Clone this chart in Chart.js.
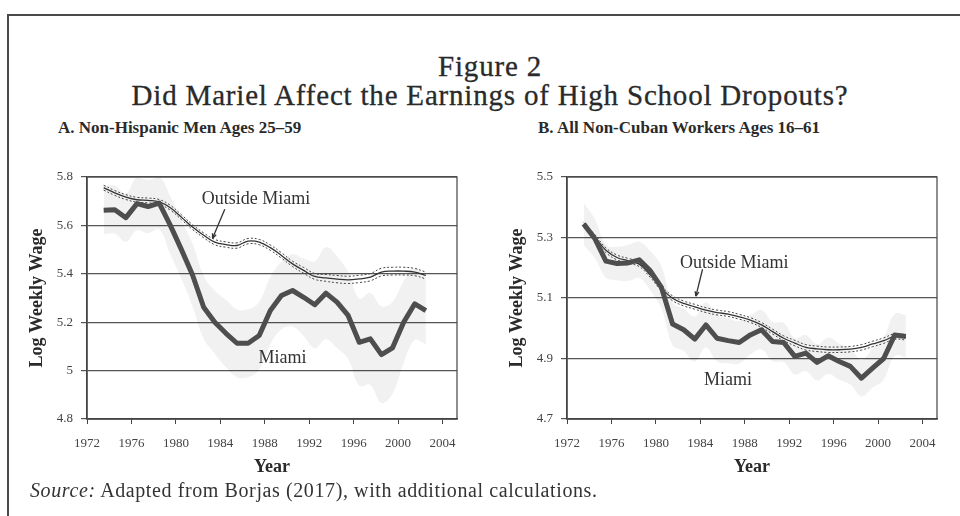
<!DOCTYPE html>
<html>
<head>
<meta charset="utf-8">
<script src="https://cdn.jsdelivr.net/npm/chart.js@4.4.1/dist/chart.umd.min.js"></script>
<style>
    html, body { margin: 0; padding: 0; background: #fff; }
    body { width: 960px; height: 516px; position: relative; overflow: hidden; font-family: "Liberation Serif", serif; color: #333; }
    .frame { position: absolute; left: 7px; top: 14px; right: -10px; bottom: -10px; border-top: 2px solid #4a4a4a; border-left: 2px solid #4a4a4a; }
    .title { position: absolute; left: 0; width: 980px; text-align: center; font-size: 29px; line-height: 30px; letter-spacing: 0.8px; color: #2a2a2a; -webkit-text-stroke: 0.3px #2a2a2a; }
    .sub { position: absolute; top: 118px; font-size: 17px; font-weight: bold; color: #2a2a2a; white-space: nowrap; }
    .source { position: absolute; left: 30px; top: 479px; font-size: 20px; letter-spacing: 0.6px; color: #333; white-space: nowrap; }
    canvas { position: absolute; top: 160px; }
</style>
</head>
<body>
<div class="frame"></div>
<div class="title" style="top:51px">Figure 2</div>
<div class="title" style="top:80px">Did Mariel Affect the Earnings of High School Dropouts?</div>
<div class="sub" style="left:58px">A. Non-Hispanic Men Ages 25–59</div>
<div class="sub" style="left:538px">B. All Non-Cuban Workers Ages 16–61</div>
<canvas id="c-a" width="450" height="320" style="left:20px"></canvas>
<canvas id="c-b" width="450" height="320" style="left:500px"></canvas>
<div class="source"><i>Source:</i> Adapted from Borjas (2017), with additional calculations.</div>

<script>
Chart.defaults.font.family = "'Liberation Serif', serif";
Chart.defaults.color = "#444";

const YEARS = [1973, 1974, 1975, 1976, 1977, 1978, 1979, 1980, 1981, 1982,
               1983, 1984, 1985, 1986, 1987, 1988, 1989, 1990, 1991, 1992,
               1993, 1994, 1995, 1996, 1997, 1998, 1999, 2000, 2001, 2002];
const X_TICKS = [1972, 1976, 1980, 1984, 1988, 1992, 1996, 2000, 2004];

// Panel A: non-Hispanic men 25-59
const Y_TICKS_A = [4.8, 5, 5.2, 5.4, 5.6, 5.8];
const MIAMI_A = [5.663, 5.665, 5.632, 5.690, 5.678, 5.692, 5.600, 5.500, 5.395, 5.262,
                 5.200, 5.154, 5.113, 5.113, 5.145, 5.248, 5.310, 5.331, 5.303, 5.272,
                 5.320, 5.283, 5.228, 5.117, 5.131, 5.066, 5.094, 5.200, 5.276, 5.248];
const MIAMI_A_CI = [0.10, 0.10, 0.10, 0.11, 0.11, 0.11, 0.12, 0.12, 0.13, 0.13,
                    0.13, 0.14, 0.14, 0.14, 0.14, 0.14, 0.14, 0.15, 0.16, 0.18,
                    0.19, 0.19, 0.18, 0.18, 0.19, 0.20, 0.19, 0.17, 0.15, 0.14];
const OUTSIDE_A = [5.756, 5.734, 5.717, 5.706, 5.703, 5.697, 5.673, 5.634, 5.593, 5.559,
                   5.531, 5.521, 5.517, 5.535, 5.531, 5.508, 5.476, 5.441, 5.414, 5.389,
                   5.383, 5.378, 5.375, 5.379, 5.386, 5.407, 5.411, 5.411, 5.407, 5.393];
const OUTSIDE_A_CI = [0.010, 0.010, 0.010, 0.010, 0.010, 0.010, 0.010, 0.010, 0.010, 0.010,
                      0.011, 0.011, 0.011, 0.011, 0.011, 0.011, 0.011, 0.011, 0.012, 0.012,
                      0.014, 0.015, 0.015, 0.015, 0.015, 0.016, 0.016, 0.016, 0.015, 0.014];

// Panel B: all non-Cuban workers 16-61
const Y_TICKS_B = [4.7, 4.9, 5.1, 5.3, 5.5];
const MIAMI_B = [5.345, 5.297, 5.222, 5.214, 5.216, 5.226, 5.190, 5.135, 5.014, 4.995,
                 4.964, 5.011, 4.967, 4.959, 4.953, 4.978, 4.995, 4.956, 4.953, 4.907,
                 4.918, 4.887, 4.909, 4.890, 4.874, 4.835, 4.868, 4.900, 4.978, 4.973];
const MIAMI_B_CI = [0.070, 0.065, 0.055, 0.055, 0.060, 0.060, 0.065, 0.070, 0.070, 0.070,
                    0.075, 0.075, 0.077, 0.075, 0.070, 0.065, 0.065, 0.065, 0.065, 0.060,
                    0.060, 0.060, 0.060, 0.060, 0.060, 0.060, 0.065, 0.070, 0.070, 0.070];
const OUTSIDE_B = [5.341, 5.302, 5.258, 5.234, 5.223, 5.212, 5.176, 5.132, 5.099, 5.082,
                   5.071, 5.060, 5.052, 5.047, 5.038, 5.027, 5.011, 4.989, 4.967, 4.951,
                   4.937, 4.932, 4.929, 4.929, 4.931, 4.937, 4.948, 4.959, 4.973, 4.970];
const OUTSIDE_B_CI = [0.008, 0.008, 0.008, 0.008, 0.008, 0.008, 0.008, 0.008, 0.008, 0.008,
                      0.008, 0.008, 0.008, 0.008, 0.008, 0.008, 0.008, 0.008, 0.008, 0.009,
                      0.009, 0.009, 0.009, 0.009, 0.009, 0.009, 0.009, 0.009, 0.009, 0.009];

const C = {
    miami:  "#4e4e4e",
    band:   "rgba(0, 0, 0, 0.055)",
    line:   "#333",
    dotted: "#444",
    grid:   "#555",
    axis:   "#444",
    label:  "#2a2a2a",
};

// each value is plotted at mid-year, so the 1972 tick sits on the left edge
const pts = vals => YEARS.map((yr, i) => ({ x: yr + 0.5, y: vals[i] }));
const band = (vals, ci, sign) => YEARS.map((yr, i) => ({ x: yr + 0.5, y: vals[i] + sign * ci[i] }));

const boxPlugin = {
    id: "box",
    afterDatasetsDraw(chart) {
        const { ctx, chartArea: a } = chart;
        ctx.save();
        ctx.strokeStyle = C.axis;
        ctx.lineWidth = 1.2;
        ctx.strokeRect(a.left, a.top, a.right - a.left, a.bottom - a.top);
        ctx.restore();
    },
};

const notesPlugin = {
    id: "notes",
    afterDatasetsDraw(chart, args, opts) {
        const { ctx, scales: { x, y } } = chart;
        ctx.save();
        ctx.fillStyle = "#333";
        ctx.font = "18px 'Liberation Serif', serif";
        ctx.textAlign = "center";
        ctx.textBaseline = "middle";
        (opts.texts || []).forEach(t => ctx.fillText(t.text, x.getPixelForValue(t.at[0]), y.getPixelForValue(t.at[1])));
        ctx.strokeStyle = "#333";
        ctx.lineWidth = 1.3;
        (opts.arrows || []).forEach(ar => {
            const x0 = x.getPixelForValue(ar.from[0]), y0 = y.getPixelForValue(ar.from[1]);
            const x1 = x.getPixelForValue(ar.to[0]),   y1 = y.getPixelForValue(ar.to[1]);
            ctx.beginPath();
            ctx.moveTo(x0, y0);
            ctx.lineTo(x1, y1);
            ctx.stroke();
            const ang = Math.atan2(y1 - y0, x1 - x0);
            ctx.beginPath();
            ctx.moveTo(x1, y1);
            ctx.lineTo(x1 - 5 * Math.cos(ang - 0.4), y1 - 5 * Math.sin(ang - 0.4));
            ctx.moveTo(x1, y1);
            ctx.lineTo(x1 - 5 * Math.cos(ang + 0.4), y1 - 5 * Math.sin(ang + 0.4));
            ctx.stroke();
        });
        ctx.restore();
    },
};

function makeChart(id, miami, miamiCi, outside, outsideCi, yTicks, notes) {
    const thin = { pointRadius: 0, tension: 0.4, fill: false };
    return new Chart(document.getElementById(id), {
        type: "line",
        data: {
            datasets: [
                { ...thin, data: band(miami, miamiCi, 1), borderWidth: 0, backgroundColor: C.band, fill: "+1", order: 3 },
                { ...thin, data: band(miami, miamiCi, -1), borderWidth: 0, order: 3 },
                { ...thin, data: band(outside, outsideCi, 1), borderColor: C.dotted, borderWidth: 1, borderDash: [2, 2], order: 2 },
                { ...thin, data: band(outside, outsideCi, -1), borderColor: C.dotted, borderWidth: 1, borderDash: [2, 2], order: 2 },
                { ...thin, data: pts(outside), borderColor: C.line, borderWidth: 1.3, order: 1 },
                { data: pts(miami), borderColor: C.miami, borderWidth: 5, pointRadius: 0, tension: 0, borderJoinStyle: "round", order: 0 },
            ],
        },
        options: {
            responsive: false,
            animation: false,
            devicePixelRatio: 1,
            layout: { padding: { top: 17, right: 13, left: 0, bottom: 0 } },
            plugins: { legend: { display: false }, tooltip: { enabled: false }, notes },
            scales: {
                x: {
                    type: "linear",
                    min: 1972,
                    max: 2005.3,
                    afterBuildTicks: s => { s.ticks = X_TICKS.map(v => ({ value: v })); },
                    afterFit: s => { s.height = 61; },
                    ticks: { callback: v => String(v), font: { size: 13 }, padding: 12, maxRotation: 0, autoSkip: false },
                    grid: { drawOnChartArea: false, drawTicks: true, tickLength: 5, color: C.axis },
                    border: { color: C.axis, width: 1.5 },
                    title: { display: true, text: "Year", color: C.label, font: { size: 18, weight: "bold" }, padding: { top: 0, bottom: 2 } },
                },
                y: {
                    min: yTicks[0],
                    max: yTicks[yTicks.length - 1],
                    afterBuildTicks: s => { s.ticks = yTicks.map(v => ({ value: v })); },
                    afterFit: s => { s.width = 67; },
                    ticks: { callback: v => String(v), font: { size: 13 }, padding: 8 },
                    grid: { color: C.grid, lineWidth: 1.2, tickLength: 6 },
                    border: { color: C.axis, width: 1.5 },
                    title: { display: true, text: "Log Weekly Wage", color: C.label, font: { size: 18, weight: "bold" }, padding: { top: 7, bottom: 0 } },
                },
            },
        },
        plugins: [boxPlugin, notesPlugin],
    });
}

makeChart("c-a", MIAMI_A, MIAMI_A_CI, OUTSIDE_A, OUTSIDE_A_CI, Y_TICKS_A, {
    texts: [
        { text: "Outside Miami", at: [1987.2, 5.708] },
        { text: "Miami", at: [1989.6, 5.052] },
    ],
    arrows: [{ from: [1984.4, 5.667], to: [1983.3, 5.547] }],
});

makeChart("c-b", MIAMI_B, MIAMI_B_CI, OUTSIDE_B, OUTSIDE_B_CI, Y_TICKS_B, {
    texts: [
        { text: "Outside Miami", at: [1987.05, 5.215] },
        { text: "Miami", at: [1986.5, 4.829] },
    ],
    arrows: [{ from: [1984.2, 5.195], to: [1983.6, 5.106] }],
});
</script>
</body>
</html>
